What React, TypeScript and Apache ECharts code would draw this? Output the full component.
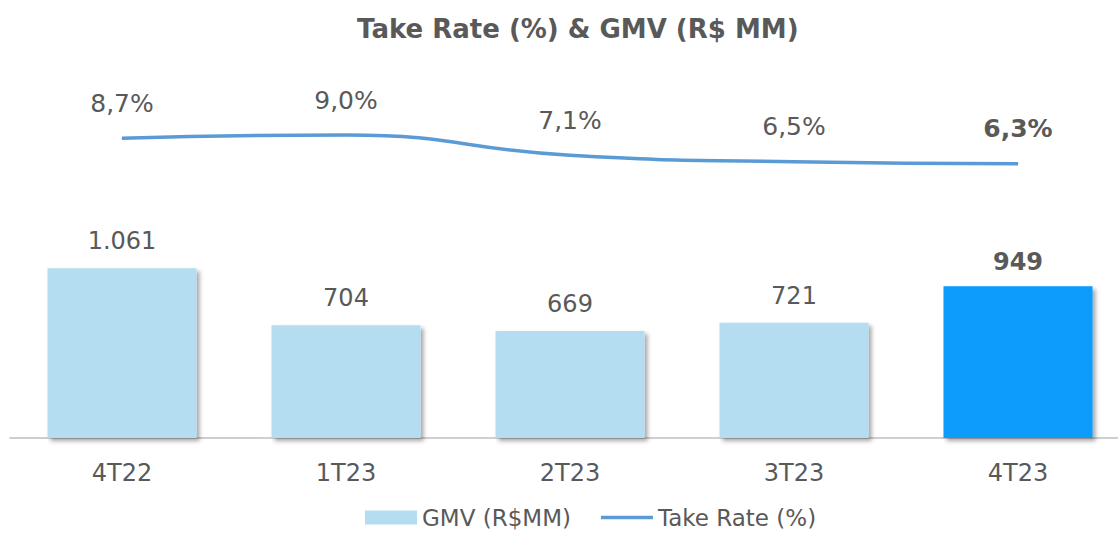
import React, { useEffect, useRef } from "react";
import * as echarts from "echarts";

const categories = ["4T22", "1T23", "2T23", "3T23", "4T23"];
const gmvValues = [1061, 704, 669, 721, 949];
const takeRateValues = [8.7, 9.0, 7.1, 6.5, 6.3];

const FONT = '"DejaVu Sans", sans-serif';
const GRAY = "#595959";

function fmtThousands(v: number): string {
  const s = Math.round(v).toString();
  return s.replace(/\B(?=(\d{3})+(?!\d))/g, ".");
}

export default function App() {
  const ref = useRef<HTMLDivElement>(null);
  useEffect(() => {
    if (!ref.current) return;
    const chart = echarts.init(ref.current, undefined, { renderer: "svg" });
    const last = categories.length - 1;
    chart.setOption({
      animation: false,
      backgroundColor: "#ffffff",
      title: {
        text: "Take Rate (%) & GMV (R$ MM)",
        left: 352,
        top: 11,
        textStyle: { fontFamily: FONT, fontSize: 26, fontWeight: "bold", color: GRAY },
      },
      legend: {
        bottom: 0,
        left: 360,
        itemWidth: 52,
        itemHeight: 14,
        itemGap: 30,
        textStyle: { fontFamily: FONT, fontSize: 23, color: GRAY },
        data: [
          { name: "GMV (R$MM)", icon: "rect" },
          { name: "Take Rate (%)", icon: "path://M0 0H52V3.5H0Z" },
        ],
      },
      grid: { left: 10, right: 0, top: 118, bottom: 96, containLabel: false },
      xAxis: {
        type: "category",
        data: categories,
        axisTick: { show: false },
        axisLine: { lineStyle: { color: "#BFBFBF", width: 1.5 } },
        axisLabel: { fontFamily: FONT, fontSize: 24, color: GRAY, margin: 23 },
      },
      yAxis: [
        { type: "value", min: 0, max: 2000, show: false, splitLine: { show: false } },
        { type: "value", min: -19.4, max: 10.6, show: false, splitLine: { show: false } },
      ],
      series: [
        {
          name: "GMV (R$MM)",
          type: "bar",
          yAxisIndex: 0,
          barWidth: 149,
          itemStyle: {
            color: "#B4DDF1",
            shadowColor: "rgba(0,0,0,0.35)",
            shadowBlur: 4,
            shadowOffsetX: 3,
            shadowOffsetY: 3,
          },
          label: {
            show: true,
            position: "top",
            distance: 15,
            fontFamily: FONT,
            fontSize: 24,
            color: GRAY,
            formatter: (p: any) => fmtThousands(p.value),
          },
          data: gmvValues.map((v, i) =>
            i === last
              ? { value: v, itemStyle: { color: "#079BFC" }, label: { fontWeight: "bold", distance: 12 } }
              : v
          ),
        },
        {
          name: "Take Rate (%)",
          type: "line",
          yAxisIndex: 1,
          smooth: true,
          symbol: "circle",
          symbolSize: 1,
          itemStyle: { color: "#5B9BD5" },
          lineStyle: { color: "#5B9BD5", width: 3.5 },
          label: {
            show: true,
            position: "top",
            distance: 22,
            fontFamily: FONT,
            fontSize: 25,
            color: GRAY,
            formatter: (p: any) => p.value.toFixed(1).replace(".", ",") + "%",
          },
          data: takeRateValues.map((v, i) =>
            i === last ? { value: v, label: { fontWeight: "bold" } } : v
          ),
        },
      ],
    });
    return () => chart.dispose();
  }, []);
  return (
    <div style={{ position: "absolute", left: 0, top: 0, width: 1118, height: 534, overflow: "hidden" }}>
      <div ref={ref} style={{ width: 1130, height: 534 }} />
    </div>
  );
}
